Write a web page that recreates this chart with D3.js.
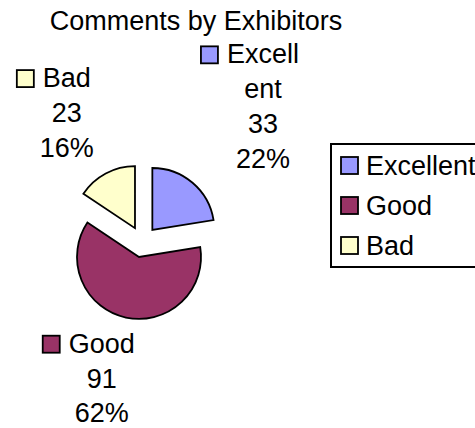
<!DOCTYPE html>
<html><head><meta charset="utf-8">
<script src="https://cdn.jsdelivr.net/npm/d3@7"></script>
<style>html,body{margin:0;padding:0;background:#fff;}svg{display:block;font-family:"Liberation Sans",Arial,sans-serif;}</style>
</head><body>
<svg id="chart" width="475" height="428"></svg>
<script>
const title = "Comments by Exhibitors";
const categories = ["Excellent", "Good", "Bad"];
const values = [33, 91, 23];
const percents = ["22%", "62%", "16%"];
const labelNames = [["Excell", "ent"], ["Good"], ["Bad"]];
const colors = ["#9999FF", "#993366", "#FFFFCC"];

const svg = d3.select("#chart");
const fs = 27, lh = 34.8;
const cx = 142.3, cy = 241.8, r = 62, explode = 15.5;

svg.append("text").attr("x", 196).attr("y", 30).attr("text-anchor", "middle")
  .attr("font-size", fs).text(title);

const pie = d3.pie().sort(null).value(d => d)(values);
const arc = d3.arc().innerRadius(0).outerRadius(r);
const g = svg.append("g").attr("transform", `translate(${cx},${cy})`);
g.selectAll("path").data(pie).join("path")
  .attr("d", arc)
  .attr("transform", d => {
    const m = (d.startAngle + d.endAngle) / 2;
    return `translate(${explode * Math.sin(m)},${-explode * Math.cos(m)})`;
  })
  .attr("fill", (d, i) => colors[i])
  .attr("stroke", "#000").attr("stroke-width", 1.8).attr("stroke-linejoin", "miter");

// data labels (placed outside the exploded slices, Excel-style)
const D = 92, sw = 17, gap = 9, asc = 19, desc = 7;
const nudge = [[-1, 3], [12, 2], [-5, 3]];
function textW(t) {
  const n = svg.append("text").attr("font-size", fs).text(t);
  const w = n.node().getComputedTextLength(); n.remove(); return w;
}
pie.forEach((d, i) => {
  const m = (d.startAngle + d.endAngle) / 2;
  const s = Math.sin(m), c = Math.cos(m);
  const px = cx + D * s, py = cy - D * c;
  const lines = labelNames[i].concat([String(values[i]), percents[i]]);
  const tw = d3.max(lines, textW);
  const bw = tw + sw + gap;
  const bh = asc + (lines.length - 1) * lh + desc;
  const left = (s >= 0 ? px : px - bw) + nudge[i][0];
  const top = (c >= 0 ? py - bh : py) + nudge[i][1];
  const tx = left + sw + gap + tw / 2;
  const lg = svg.append("g");
  lines.forEach((t, k) => {
    lg.append("text").attr("x", tx).attr("y", top + asc + k * lh)
      .attr("text-anchor", "middle").attr("font-size", fs).text(t);
  });
  const firstW = textW(lines[0]);
  lg.append("rect").attr("x", tx - firstW / 2 - gap - sw).attr("y", top + asc - sw)
    .attr("width", sw).attr("height", sw)
    .attr("fill", colors[i]).attr("stroke", "#000").attr("stroke-width", 1.8);
});

// legend
const lgX = 331, lgY = 144, lgH = 123;
svg.append("rect").attr("x", lgX).attr("y", lgY).attr("width", 200).attr("height", lgH)
  .attr("fill", "none").attr("stroke", "#000").attr("stroke-width", 2);
const ly = d3.scalePoint().domain(categories).range([175, 255]);
const leg = svg.append("g").selectAll("g").data(categories).join("g");
leg.append("rect").attr("x", 341).attr("y", d => ly(d) - sw - 1)
  .attr("width", sw).attr("height", sw)
  .attr("fill", (d, i) => colors[i]).attr("stroke", "#000").attr("stroke-width", 1.8);
leg.append("text").attr("x", 366).attr("y", d => ly(d)).attr("font-size", fs).text(d => d);
</script>
</body></html>
